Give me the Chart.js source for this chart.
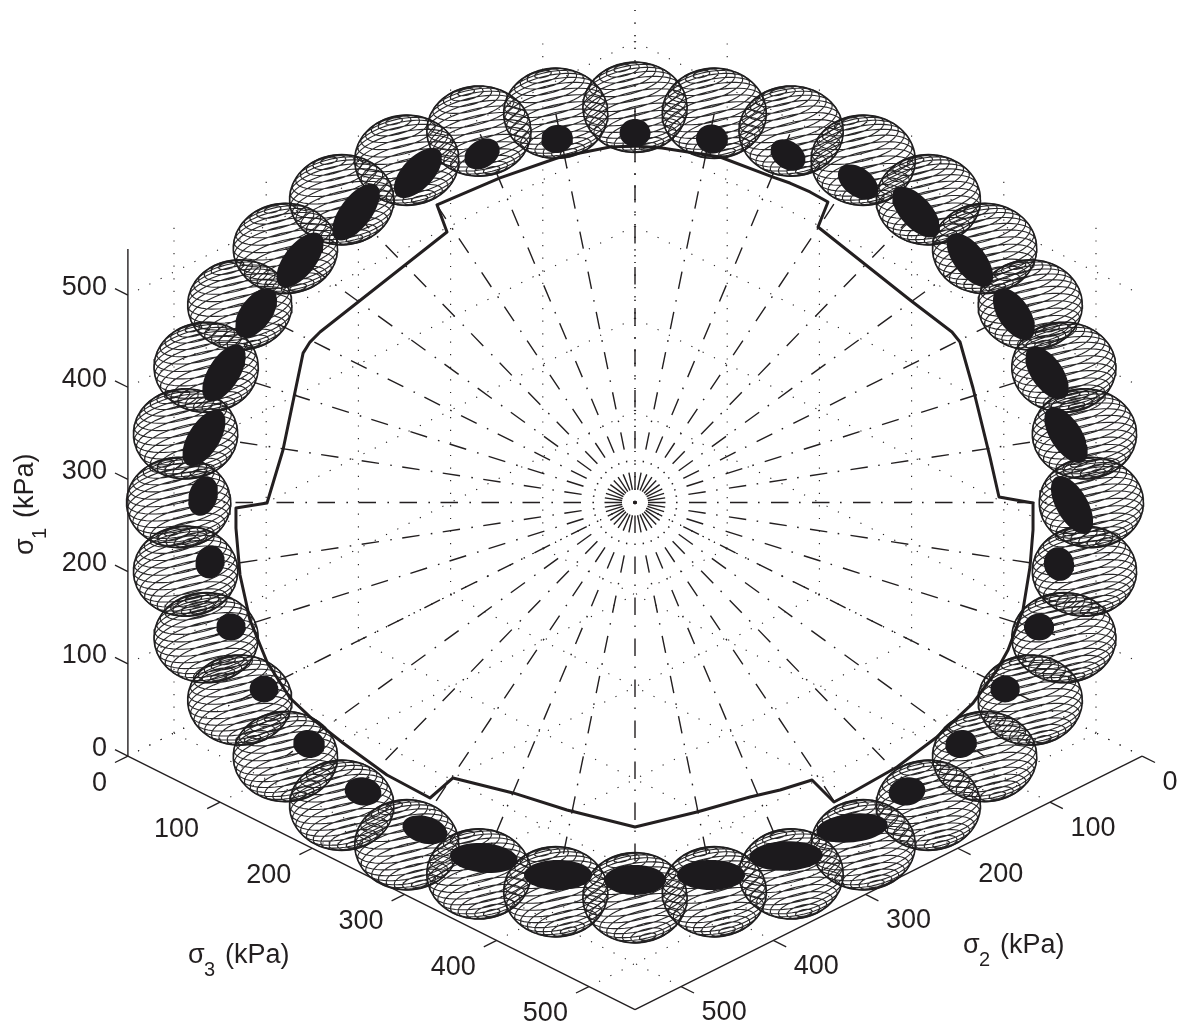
<!DOCTYPE html>
<html><head><meta charset="utf-8">
<style>html,body{margin:0;padding:0;background:#fff}canvas{display:block}</style>
<script src="https://cdn.jsdelivr.net/npm/chart.js@4/dist/chart.umd.js"></script>
</head><body><canvas id="c" width="1177" height="1031"></canvas>
<script>
const tickValues=[0,100,200,300,400,500];
const axisLimit=550;
const lodeAngles=[0,10,20,30,40,50,60,70,80,90,100,110,120,130,140,150,160,170,180,190,200,210,220,230,240,250,260,270,280,290,300,310,320,330,340,350];
const sphereRho=[350,350,350,350,350,350,350,350,350,350,350,350,350,350,350,350,350,350,350,350,350,350,350,350,350,350,350,350,350,350,350,350,350,350,350,350];
const sphereRadius=40;
const coreX=[0,83.5,165.9,241.9,304.8,363.3,411,446.8,467.5,474,459.9,438.2,401.3,353.6,295,235.4,163.8,82.4,0,-83.5,-163.8,-227.8,-295,-353.6,-402.4,-438.2,-460.9,-468.5,-467.5,-445.8,-411,-363.3,-302.6,-235.4,-165.9,-84.6];
const coreY=[400.8,394.3,376.9,347.6,315,263,204.4,140.5,73.2,-2.7,-66.7,-135,-202.3,-261.9,-313.4,-353,-383.4,-404,-409.4,-404,-385.5,-355,-313.4,-261.9,-202.3,-135,-64.5,7,70,140.5,205.5,263,315,357.4,378,394.3];
const coreMajor=[16.8,17.4,20.6,24.5,34,34.6,32,33,34.4,35,18.4,16.3,16,17.4,20,39,40,36.9,33.6,36.9,37,25,20,17.4,15.6,16,18,22,34.5,35,31,35.4,36.4,33.6,20.6,17.4];
const coreMinor=[15.2,15.7,15,15.5,17,17,17,17,17,17,16.3,14.6,14.5,15,15.2,15.5,16,16.3,16.3,16.3,16,14.8,15.2,15,14.5,14.6,15.7,15.5,17,17,17,17,17,17,15,15.2];
const coreTilt=[0,-10,-35,-36,-48,-52,-56,-55,-57,-60,-75,0,0,15,10,6,2,0,0,0,-5,-15,-10,-15,0,0,75,72,58,58,54,52,53,47,32,12];
const yieldX=[0,29.3,92.2,149.7,168,189.8,209.3,198.5,298.3,343.8,352.5,366.6,385,394.8,431.7,431.7,428.4,420.8,404.6,392.6,366.6,327.5,284.2,236.4,215.8,192,157.3,124.7,67.2,0,-73.8,-132.3,-197.4,-222.3,-269,-316.7,-352.5,-374.2,-399.1,-417.6,-428.4,-432.8,-432.8,-399.1,-381.8,-360,-352.5,-341.6,-203.9,-214.7,-146.4,-81.3,-27.1,0];
const yieldY=[386.7,384.5,374.7,353,346.5,336.8,325.9,298.8,219.6,184.9,174.1,124.2,49.3,6,-0.5,-29.8,-70,-116.6,-160,-181.7,-217.5,-254.3,-286.9,-314,-324.8,-301,-311.8,-319.4,-335.7,-352,-333.5,-315,-298.8,-320.5,-295.5,-260.8,-232.6,-212,-173,-127.4,-78.6,-27.7,-6,-0.5,56.9,162,174,184.9,293.4,322.7,352,374.7,385.6,386.7];

const INK='#231f20', K=0.922;
const project=(s1,s2,s3)=>({x:s3-s2,y:s1-(s2+s3)/2});
const base={type:'scatter',showLine:true,pointRadius:0,pointHoverRadius:0,tension:0,fill:false,borderColor:INK,borderCapStyle:'butt',borderJoinStyle:'round'};
const datasets=[];
function seg(a,b,w,dash,order,color){datasets.push({...base,data:[a,b],borderWidth:w,borderDash:dash||[],order,borderColor:color||INK});}

const gridDash=[1.2,11.4];
tickValues.forEach(t=>{
  seg(project(t,0,0),project(t,axisLimit,0),1.1,gridDash,6);
  seg(project(t,0,0),project(t,0,axisLimit),1.1,gridDash,6);
  seg(project(0,t,0),project(axisLimit,t,0),1.1,gridDash,6);
  seg(project(0,0,t),project(axisLimit,0,t),1.1,gridDash,6);
  seg(project(0,t,0),project(0,t,axisLimit),1.1,gridDash,6);
  seg(project(0,0,t),project(0,axisLimit,t),1.1,gridDash,6);
});
seg(project(0,axisLimit,0),project(axisLimit,axisLimit,0),1.4,[],0);
seg(project(0,axisLimit,0),project(0,axisLimit,axisLimit),1.4,[],0);
seg(project(0,0,axisLimit),project(0,axisLimit,axisLimit),1.4,[],0);
const tickLen=14;
tickValues.forEach(t=>{
  seg(project(t,axisLimit,0),project(t,axisLimit,-tickLen),1.3,[],0);
  seg(project(0,axisLimit,t),project(0,axisLimit+tickLen,t),1.3,[],0);
  seg(project(0,t,axisLimit),project(0,t,axisLimit+tickLen),1.3,[],0);
});
lodeAngles.forEach((deg,i)=>{
  const th=deg*Math.PI/180, r=sphereRho[i];
  seg({x:0,y:0},{x:Math.SQRT2*r*Math.sin(th),y:Math.sqrt(1.5)*r*Math.cos(th)},1.4,[1.6,11.4,17.5,10.5],5);
});
datasets.push({...base,data:yieldX.map((x,i)=>({x,y:yieldY[i]})),borderWidth:3,order:3});
const ax=[-0.25,0.88,0.42];const n=Math.hypot(...ax);const A=ax.map(v=>v/n);
const B=(()=>{const b=[A[1],-A[0],0];const l=Math.hypot(...b);return b.map(v=>v/l);})();
const C=[A[1]*B[2]-A[2]*B[1],A[2]*B[0]-A[0]*B[2],A[0]*B[1]-A[1]*B[0]];
const RINGS=19;
function spherePt(cx,cy,R,phi,lam){
  const f=i=>Math.sin(phi)*Math.cos(lam)*B[i]+Math.sin(phi)*Math.sin(lam)*C[i]+Math.cos(phi)*A[i];
  return {x:cx+Math.SQRT2*R*f(0),y:cy+Math.sqrt(1.5)*R*f(1)};
}
lodeAngles.forEach((deg,i)=>{
  const th=deg*Math.PI/180;
  const cx=Math.SQRT2*sphereRho[i]*Math.sin(th), cy=Math.sqrt(1.5)*sphereRho[i]*Math.cos(th);
  const pts=[];
  for(let a=1;a<RINGS;a++){for(let s=0;s<=48;s++)pts.push(spherePt(cx,cy,sphereRadius,a*Math.PI/RINGS,s*2*Math.PI/48));pts.push({x:NaN,y:NaN});}
  datasets.push({...base,data:pts,borderWidth:1.1,order:2,spanGaps:false,borderColor:'rgba(30,28,29,0.95)'});
  const out=[];
  for(let s=0;s<=72;s++){const p=s*2*Math.PI/72;out.push({x:cx+Math.SQRT2*sphereRadius*Math.cos(p),y:cy+Math.sqrt(1.5)*sphereRadius*Math.sin(p)});}
  datasets.push({...base,data:out,borderWidth:1.5,order:2,borderColor:'rgba(30,28,29,0.95)'});
});
lodeAngles.forEach((deg,i)=>{
  const t=coreTilt[i]*Math.PI/180,pts=[];
  for(let s=0;s<=48;s++){const p=s*2*Math.PI/48,u=coreMajor[i]*Math.cos(p),v=coreMinor[i]*Math.sin(p);
    pts.push({x:coreX[i]+u*Math.cos(t)-v*Math.sin(t),y:coreY[i]+u*Math.sin(t)+v*Math.cos(t)});}
  datasets.push({...base,data:pts,borderWidth:0,fill:'shape',backgroundColor:'#1c1a1d',order:1});
});

const FONT='"Liberation Sans",Arial,sans-serif';
const labelsPlugin={id:'labels3d',afterDraw(ch){
  const {ctx,scales:{x:sx,y:sy}}=ch;
  const P=p=>[sx.getPixelForValue(p.x),sy.getPixelForValue(p.y)];
  ctx.save();ctx.fillStyle=INK;ctx.font='27px '+FONT;ctx.textBaseline='middle';
  tickValues.forEach(t=>{
    let [a,b]=P(project(t,axisLimit,0));ctx.textAlign='right';ctx.fillText(String(t),a-21,b-8);
    [a,b]=P(project(0,axisLimit,t));ctx.textAlign='right';ctx.fillText(String(t),a-21,b+27);
    [a,b]=P(project(0,t,axisLimit));ctx.textAlign='left';ctx.fillText(String(t),a+20.5,b+26);
  });
  ctx.textBaseline='alphabetic';ctx.textAlign='left';
  function title(sub,x,y,rot){
    ctx.save();ctx.translate(x,y);ctx.rotate(rot);
    ctx.font='27px '+FONT;ctx.fillText('σ',0,0);
    ctx.font='20px '+FONT;ctx.fillText(sub,16,13);
    ctx.font='27px '+FONT;ctx.fillText('(kPa)',37,0);
    ctx.restore();
  }
  title('1',33,555,-Math.PI/2);
  title('3',188,963,0);
  title('2',963,953,0);
  ctx.restore();
}};
const xMin=-635/K,xMax=(1177-635)/K,yMax=502.5/K,yMin=-(1031-502.5)/K;
new Chart(document.getElementById('c'),{
  type:'scatter',data:{datasets},plugins:[labelsPlugin],
  options:{responsive:false,animation:false,devicePixelRatio:1,events:[],
    layout:{padding:0},
    plugins:{legend:{display:false},tooltip:{enabled:false},title:{display:false},filler:{propagate:false}},
    scales:{x:{type:'linear',min:xMin,max:xMax,display:false},y:{type:'linear',min:yMin,max:yMax,display:false}}}
});
</script></body></html>
